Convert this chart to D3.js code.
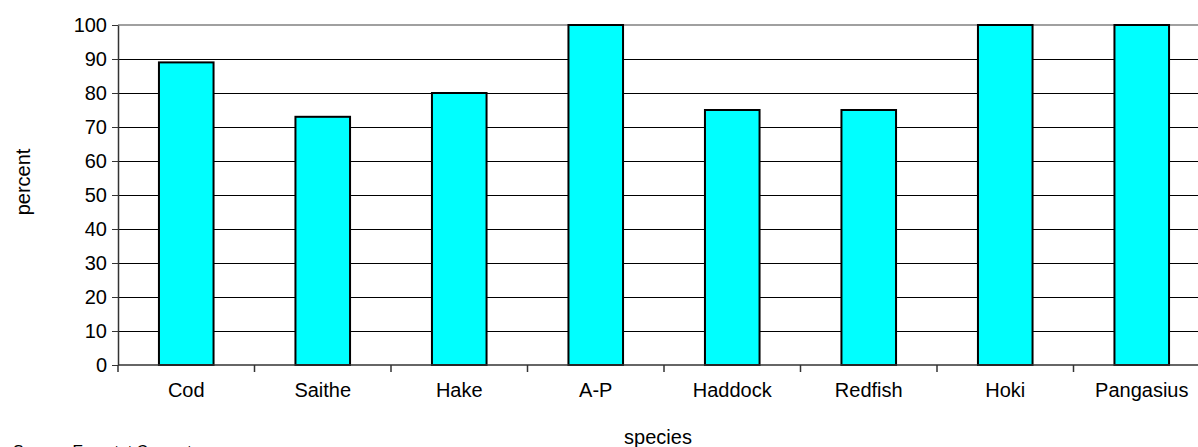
<!DOCTYPE html>
<html>
<head>
<meta charset="utf-8">
<script src="https://cdn.jsdelivr.net/npm/d3@7"></script>
<style>
  html, body { margin: 0; padding: 0; background: #fff; }
  svg { display: block; font-family: Arial, "Liberation Sans", sans-serif; }
</style>
</head>
<body>
<svg id="chart" width="1198" height="447"></svg>
<script>
const categories = ["Cod", "Saithe", "Hake", "A-P", "Haddock", "Redfish", "Hoki", "Pangasius"];
const values = [89, 73, 80, 100, 75, 75, 100, 100];
const yTicks = [0, 10, 20, 30, 40, 50, 60, 70, 80, 90, 100];
const yTitle = "percent";
const xTitle = "species";
const sourceText = "Source: Eurostat Comext";

(function () {
const svg = d3.select("#chart");
const mLeft = 118, mRight = 1210, mTop = 25, mBottom = 365;

const x = d3.scaleBand().domain(categories).range([mLeft, mRight])
  .paddingInner(0.6).paddingOuter(0.3);
const y = d3.scaleLinear().domain([0, 100]).range([mBottom, mTop]);

// gridlines
svg.append("g").selectAll("line").data(yTicks.filter(d => d > 0 && d < 100)).join("line")
  .attr("x1", mLeft).attr("x2", mRight)
  .attr("y1", d => y(d)).attr("y2", d => y(d))
  .attr("stroke", "#000").attr("stroke-width", 1).attr("shape-rendering", "crispEdges");

// top border of plot area (gray)
svg.append("line").attr("x1", mLeft).attr("x2", mRight)
  .attr("y1", y(100)).attr("y2", y(100))
  .attr("stroke", "#808080").attr("stroke-width", 1.5);

// bars
svg.append("g").selectAll("rect").data(categories).join("rect")
  .attr("x", d => x(d))
  .attr("width", x.bandwidth())
  .attr("y", (d, i) => y(values[i]))
  .attr("height", (d, i) => y(0) - y(values[i]))
  .attr("fill", "#00FFFF")
  .attr("stroke", "#000")
  .attr("stroke-width", 2);

// y axis
const yAxis = d3.axisLeft(y).tickValues(yTicks).tickSize(6).tickPadding(5).tickSizeOuter(0);
const gy = svg.append("g").attr("transform", `translate(${mLeft},0)`).call(yAxis);
gy.select(".domain").attr("stroke", "#333").attr("stroke-width", 1.5);
gy.selectAll(".tick line").attr("stroke", "#333");
gy.selectAll(".tick text").attr("font-size", 20).attr("fill", "#000")
  .attr("font-family", "Arial, 'Liberation Sans', sans-serif");

// x axis line
svg.append("line").attr("x1", mLeft).attr("x2", mRight)
  .attr("y1", y(0)).attr("y2", y(0)).attr("stroke", "#333").attr("stroke-width", 1.5);

// x boundary ticks
const boundaries = d3.range(categories.length + 1).map(i => x.range()[0] + i * x.step());
svg.append("g").selectAll("line").data(boundaries).join("line")
  .attr("x1", d => d).attr("x2", d => d)
  .attr("y1", y(0)).attr("y2", y(0) + 7)
  .attr("stroke", "#333").attr("stroke-width", 1.5);

// x labels
const xAxis = d3.axisBottom(x).tickSize(0).tickPadding(18);
const gx = svg.append("g").attr("transform", `translate(0,${mBottom})`).call(xAxis);
gx.select(".domain").remove();
gx.selectAll(".tick text").attr("font-size", 20).attr("fill", "#000")
  .attr("font-family", "Arial, 'Liberation Sans', sans-serif");

// titles
svg.append("text").attr("transform", `translate(30,182) rotate(-90)`)
  .attr("text-anchor", "middle").attr("font-size", 20).text(yTitle);
svg.append("text").attr("x", 658).attr("y", 444)
  .attr("text-anchor", "middle").attr("font-size", 20).text(xTitle);
svg.append("text").attr("x", 13).attr("y", 457)
  .attr("font-size", 16).text(sourceText);
})();
</script>
</body>
</html>
